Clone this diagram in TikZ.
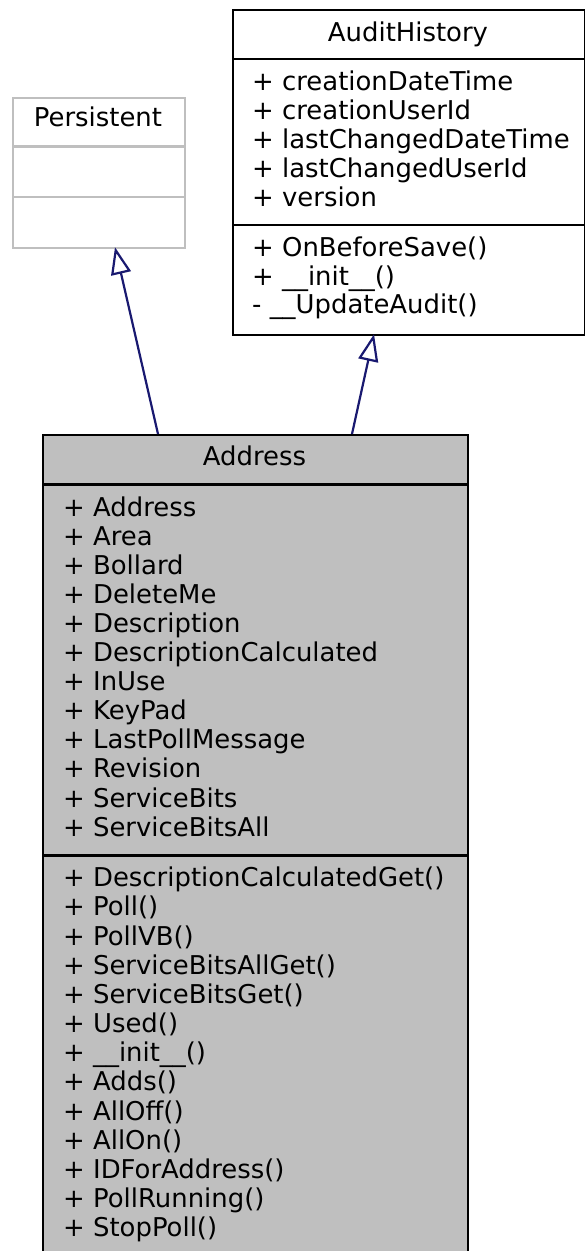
\documentclass[tikz,border=0pt]{standalone}
\usepackage{fontspec}
\setmainfont{DejaVu Sans}
\usetikzlibrary{arrows.meta,calc}
\definecolor{edgeblue}{HTML}{191970}
\definecolor{boxgray}{HTML}{BFBFBF}
\tikzset{
  classbox/.style={draw=black, line width=2.2pt, anchor=north west, inner sep=0pt, rectangle},
  ghostbox/.style={draw=boxgray, line width=2.2pt, anchor=north west, inner sep=0pt, rectangle, fill=white},
  divider/.style={line width=2.2pt},
  ghostdivider/.style={line width=2.2pt, draw=boxgray},
  member/.style={anchor=base west, inner sep=0pt, font=\fontsize{25.9}{29}\selectfont},
  title/.style={anchor=base, inner sep=0pt, font=\fontsize{25.9}{29}\selectfont},
  inherit/.style={draw=edgeblue, line width=2.2pt, -{Triangle[open, length=27pt, width=20pt]}},
}
\begin{document}
\begin{tikzpicture}[x=1pt,y=-1pt]
\useasboundingbox (0,0) rectangle (585,1251);
% Persistent
\node[ghostbox, minimum width=172pt, minimum height=150pt] (pers) at (12,97) {};
\draw[ghostdivider] (12,146.5) -- (184,146.5);
\draw[ghostdivider] (12,197) -- (184,197);
\node[title] (perst) at (98,126.7) {Persistent};
% AuditHistory
\node[classbox, fill=white, minimum width=352pt, minimum height=325pt] (audit) at (232,9) {};
\draw[divider] (232,59) -- (584,59);
\draw[divider] (232,225) -- (584,225);
\node[title] (auditt) at (408,41.7) {AuditHistory};
\foreach \t [count=\i] in {+ creationDateTime, + creationUserId, + lastChangedDateTime, + lastChangedUserId, + version}
  \node[member] (auda\i) at (252,{90.7+(\i-1)*29}) {\t};
\foreach \t [count=\i] in {+ OnBeforeSave(), + \_\_init\_\_(), - \_\_UpdateAudit()}
  \node[member] (audm\i) at (252,{256.7+(\i-1)*28.5}) {\t};
% Address
\node[classbox, fill=boxgray, minimum width=425pt, minimum height=820pt] (addr) at (42,434) {};
\draw[divider] (42,484.5) -- (467,484.5);
\draw[divider] (42,855.5) -- (467,855.5);
\node[title] (addrt) at (254.5,465) {Address};
\foreach \t [count=\i] in {+ Address, + Area, + Bollard, + DeleteMe, + Description, + DescriptionCalculated, + InUse, + KeyPad, + LastPollMessage, + Revision, + ServiceBits, + ServiceBitsAll}
  \node[member] (adda\i) at (63,{516+(\i-1)*29.1}) {\t};
\foreach \t [count=\i] in {+ DescriptionCalculatedGet(), + Poll(), + PollVB(), + ServiceBitsAllGet(), + ServiceBitsGet(), + Used(), + \_\_init\_\_(), + Adds(), + AllOff(), + AllOn(), + IDForAddress(), + PollRunning(), + StopPoll()}
  \node[member] (addm\i) at (63,{886.7+(\i-1)*29.17}) {\t};
% Inheritance
\draw[inherit] ($(addr.north west)+(116,0)$) -- ($(pers.south west)+(103,-2)$);
\draw[inherit] ($(addr.north west)+(310,0)$) -- ($(audit.south west)+(142,-2)$);
\end{tikzpicture}
\end{document}
